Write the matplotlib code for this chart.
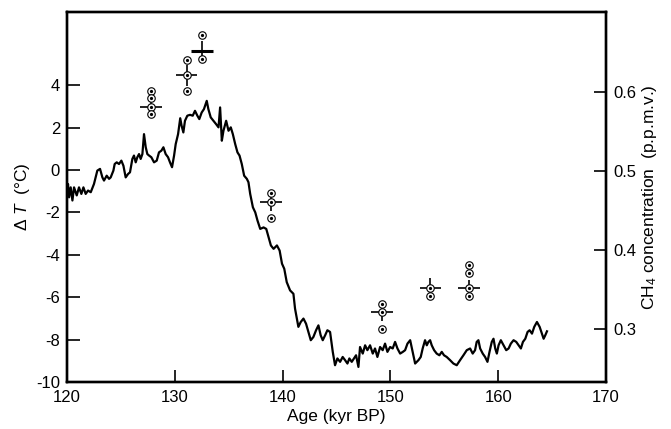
"""Vostok-style record: temperature anomaly and CH4 concentration versus age.

Solid line is the temperature change (left axis); the crosses with dotted
circles are CH4 measurements (right axis): circles are individual samples,
the cross marks the mean with its age and concentration uncertainty.
"""

import matplotlib
matplotlib.use("Agg")
import matplotlib.pyplot as plt

# --- temperature record (kyr BP, deg C) -----------------------------------
age = [120.02, 120.09, 120.19, 120.34, 120.50, 120.65, 120.90, 121.11, 121.33,
       121.52, 121.73, 121.95, 122.20, 122.50, 122.81, 123.06, 123.28, 123.43,
       123.68, 123.90, 124.05, 124.30, 124.42, 124.61, 124.82, 125.04, 125.23,
       125.44, 125.66, 125.84, 126.06, 126.21, 126.37, 126.52, 126.68, 126.83,
       126.99, 127.14, 127.30, 127.45, 127.61, 127.82, 128.07, 128.32, 128.53,
       128.75, 128.94, 129.15, 129.37, 129.55, 129.74, 129.93, 130.08, 130.30,
       130.50, 130.63, 130.79, 130.94, 131.16, 131.41, 131.66, 131.87, 132.09,
       132.27, 132.49, 132.70, 132.96, 133.11, 133.33, 133.58, 133.83, 134.05,
       134.20, 134.36, 134.51, 134.76, 134.98, 135.19, 135.38, 135.60, 135.81,
       136.00, 136.21, 136.43, 136.68, 136.83, 136.99, 137.24, 137.46, 137.67,
       137.92, 138.23, 138.48, 138.70, 138.91, 139.16, 139.47, 139.72, 139.94,
       140.15, 140.38, 140.69, 141.00, 141.15, 141.46, 141.68, 141.93, 142.17,
       142.39, 142.61, 142.85, 143.10, 143.32, 143.53, 143.72, 143.94, 144.15,
       144.40, 144.65, 144.86, 145.08, 145.33, 145.57, 145.79, 146.01, 146.19,
       146.41, 146.62, 146.81, 147.03, 147.18, 147.43, 147.65, 147.86, 148.11,
       148.36, 148.57, 148.79, 149.04, 149.28, 149.50, 149.72, 149.97, 150.21,
       150.43, 150.65, 150.90, 151.15, 151.36, 151.58, 151.83, 152.07, 152.29,
       152.60, 152.81, 152.99, 153.21, 153.37, 153.52, 153.68, 153.83, 154.05,
       154.29, 154.54, 154.76, 154.97, 155.22, 155.53, 155.84, 156.15, 156.46,
       156.77, 157.08, 157.39, 157.63, 157.85, 158.00, 158.16, 158.32, 158.56,
       158.78, 159.00, 159.19, 159.40, 159.56, 159.72, 159.87, 160.03, 160.24,
       160.49, 160.74, 160.96, 161.17, 161.42, 161.67, 161.89, 162.10, 162.29,
       162.51, 162.72, 162.91, 163.13, 163.34, 163.59, 163.84, 164.05, 164.21,
       164.36, 164.52]
delta_t = [-1.10, -0.66, -1.29, -0.82, -1.44, -0.82, -1.20, -0.82, -1.13,
           -0.82, -1.13, -0.97, -1.05, -0.66, -0.03, 0.05, -0.35, -0.50,
           -0.27, -0.42, -0.35, -0.03, 0.28, 0.36, 0.28, 0.44, 0.20,
           -0.35, -0.19, -0.11, 0.52, 0.68, 0.36, 0.60, 0.75, 0.52,
           0.75, 1.69, 1.07, 0.75, 0.68, 0.60, 0.36, 0.44, 0.83,
           0.91, 1.07, 0.75, 0.60, 0.36, 0.13, 0.68, 1.22, 1.69,
           2.44, 2.08, 1.77, 2.32, 2.56, 2.60, 2.56, 2.79, 2.56,
           2.40, 2.71, 2.87, 3.26, 2.87, 2.48, 2.32, 2.16, 2.01,
           2.95, 1.38, 1.85, 2.32, 1.85, 2.01, 1.69, 1.22, 0.83,
           0.68, 0.28, -0.27, -0.42, -0.58, -1.13, -1.76, -2.00, -2.39,
           -2.78, -2.71, -2.78, -3.17, -3.56, -3.72, -3.56, -3.80, -4.42,
           -4.66, -5.29, -5.68, -5.84, -6.54, -7.40, -7.17, -7.01, -7.25,
           -7.64, -8.03, -7.88, -7.56, -7.33, -7.80, -8.03, -7.80, -7.56,
           -7.64, -8.58, -9.21, -8.89, -9.05, -8.82, -8.97, -9.13, -8.89,
           -9.05, -8.89, -8.74, -9.29, -8.35, -8.66, -8.27, -8.50, -8.27,
           -8.66, -8.42, -8.82, -8.35, -8.50, -8.19, -8.58, -8.35, -8.42,
           -8.11, -8.42, -8.66, -8.58, -8.50, -8.19, -8.03, -8.60, -9.13,
           -8.97, -8.82, -8.42, -8.03, -8.27, -8.11, -8.03, -8.27, -8.50,
           -8.66, -8.74, -8.58, -8.74, -8.82, -8.97, -9.13, -9.21, -8.97,
           -8.74, -8.50, -8.42, -8.66, -8.50, -8.11, -8.03, -8.42, -8.66,
           -8.82, -9.05, -8.58, -8.11, -7.96, -8.42, -8.66, -8.27, -8.03,
           -8.27, -8.50, -8.42, -8.19, -8.03, -8.11, -8.27, -8.42, -8.11,
           -7.96, -7.64, -7.56, -7.72, -7.40, -7.17, -7.40, -7.72, -7.96,
           -7.80, -7.61]

# --- CH4 samples (p.p.m.v.) -----------------------------------------------
ch4_age = [127.8, 131.1, 132.5, 138.9, 149.2, 153.7, 157.3]
ch4_mean = [0.581, 0.621, 0.652, 0.461, 0.322, 0.352, 0.352]
ch4_err = [0.006, 0.013, 0.012, 0.012, 0.012, 0.012, 0.010]
age_err = [1.0, 1.0, 1.0, 1.0, 1.0, 1.0, 1.0]
ch4_samples = [
    [0.601, 0.592, 0.581, 0.572],
    [0.640, 0.621, 0.601],
    [0.672, 0.641],
    [0.472, 0.461, 0.440],
    [0.332, 0.322, 0.300],
    [0.352, 0.342],
    [0.381, 0.371, 0.352, 0.342],
]

plt.rcParams["font.family"] = ["Liberation Sans", "DejaVu Sans"]
plt.rcParams["mathtext.fontset"] = "custom"
plt.rcParams["mathtext.rm"] = "Liberation Sans"
plt.rcParams["mathtext.it"] = "Liberation Sans:italic"
plt.rcParams["axes.unicode_minus"] = False

fig = plt.figure(figsize=(6.71, 4.29), dpi=100)
ax = fig.add_axes([0.0999, 0.1096, 0.8033, 0.8624])
ax2 = ax.twinx()

ax.plot(age, delta_t, color="black", linewidth=1.6, zorder=3)

ax.set_xlim(120, 170)
ax.set_ylim(-10, 7.45)
ax.set_xticks(range(120, 171, 10))
ax.set_yticks(range(-10, 5, 2))
ax2.set_ylim(0.233, 0.701)
ax2.set_yticks([0.3, 0.4, 0.5, 0.6])

for a in (ax, ax2):
    for s in a.spines.values():
        s.set_linewidth(1.7)
ax.tick_params(axis="both", direction="in", length=9, width=1.2,
               labelsize=12, top=False, right=False)
ax.tick_params(axis="y", pad=5)
ax.tick_params(axis="x", pad=6)
ax2.tick_params(axis="y", direction="in", length=9, width=1.2,
                labelsize=12, pad=5)

# CH4 crosses: mean with age and concentration bars, circles on top
for i, x in enumerate(ch4_age):
    ax2.errorbar(x, ch4_mean[i], yerr=ch4_err[i], fmt="none",
                 ecolor="black", elinewidth=1.2, capsize=0, zorder=4)
    ax2.errorbar(x, ch4_mean[i], xerr=age_err[i], fmt="none",
                 ecolor="black", elinewidth=2.2 if i == 2 else 1.2,
                 capsize=0, zorder=4)
    xs = [x] * len(ch4_samples[i])
    ax2.plot(xs, ch4_samples[i], linestyle="none", marker="o",
             markersize=5.4, markerfacecolor="white",
             markeredgecolor="black", markeredgewidth=0.8, zorder=5)
    ax2.plot(xs, ch4_samples[i], linestyle="none", marker="o",
             markersize=1.3, color="black", zorder=6)

ax.set_xlabel("Age (kyr BP)", fontsize=12.5, labelpad=3)
ax.set_ylabel("Δ $T$  (°C)", fontsize=12.5, labelpad=3)
ax2.set_ylabel("CH$_4$ concentration  (p.p.m.v.)", fontsize=12.5,
               labelpad=3)

fig.savefig("out.png", dpi=100)
